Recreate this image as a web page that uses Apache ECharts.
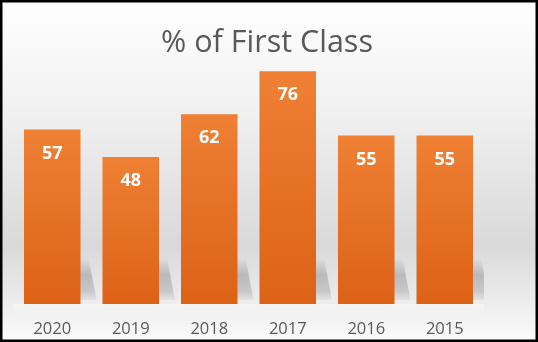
<!DOCTYPE html>
<html>
<head>
<meta charset="utf-8">
<script src="https://cdn.jsdelivr.net/npm/echarts@6/dist/echarts.min.js"></script>
<style>
html, body { margin: 0; padding: 0; }
#chart { width: 538px; height: 342px; }
</style>
</head>
<body>
<div id="chart"></div>
<script>
const years = ["2020", "2019", "2018", "2017", "2016", "2015"];
const firstClass = [57, 48, 62, 76, 55, 55];

const chart = echarts.init(document.getElementById("chart"));

const option = {
  backgroundColor: new echarts.graphic.LinearGradient(0, 0, 0, 1, [
    { offset: 0, color: "#ffffff" },
    { offset: 0.3, color: "#f2f2f2" },
    { offset: 0.72, color: "#d9d9d9" },
    { offset: 1, color: "#fbfbfb" }
  ]),
  animation: false,
  title: {
    text: "% of First Class",
    left: 262,
    textAlign: "center",
    top: 23,
    textStyle: {
      fontFamily: "Open Sans",
      fontWeight: "normal",
      fontSize: 30.5,
      color: "#595959"
    }
  },
  grid: {
    left: 13,
    right: 54,
    top: 59,
    bottom: 38
  },
  xAxis: {
    type: "category",
    data: years,
    axisLine: { show: false },
    axisTick: { show: false },
    axisLabel: {
      margin: 17,
      fontFamily: "Open Sans",
      fontSize: 16.5,
      color: "#595959"
    }
  },
  yAxis: {
    type: "value",
    min: 0,
    max: 80,
    show: false
  },
  graphic: [
    {
      type: "rect",
      silent: true,
      z: -1,
      shape: { x: 13, y: 304, width: 471, height: 14 },
      style: {
        fill: new echarts.graphic.LinearGradient(0, 0, 0, 1, [
          { offset: 0, color: "#f5f5f5" },
          { offset: 1, color: "rgba(245,245,245,0)" }
        ])
      }
    },
    {
      type: "rect",
      silent: true,
      z: 100,
      shape: { x: 1, y: 1, width: 536, height: 340 },
      style: { fill: null, stroke: "#000", lineWidth: 3 }
    }
  ],
  series: [
    {
      // soft cast shadow behind each bar
      type: "custom",
      clip: true,
      z: 1,
      silent: true,
      data: firstClass.map(function (v, i) { return [i, v]; }),
      renderItem: function (params, api) {
        const base = api.coord([api.value(0), 0]);
        const bw = api.size([1, 0])[0] * 0.72;
        const l = base[0] - bw / 2;
        const r = base[0] + bw / 2;
        const y = base[1];
        return {
          type: "polygon",
          shape: {
            points: [
              [l + 4, y - 46],
              [r + 8, y - 46],
              [r + 16, y - 4],
              [l + 20, y - 4]
            ]
          },
          style: {
            fill: new echarts.graphic.LinearGradient(0, 0, 0, 1, [
              { offset: 0, color: "rgba(0,0,0,0)" },
              { offset: 0.4, color: "rgba(0,0,0,0.17)" },
              { offset: 0.8, color: "rgba(0,0,0,0.13)" },
              { offset: 1, color: "rgba(0,0,0,0.04)" }
            ]),
            shadowBlur: 10,
            shadowColor: "rgba(0,0,0,0.12)"
          }
        };
      }
    },
    {
      type: "bar",
      data: firstClass,
      z: 2,
      barCategoryGap: "28%",
      itemStyle: {
        color: new echarts.graphic.LinearGradient(0, 0, 0, 1, [
          { offset: 0, color: "#ef8034" },
          { offset: 1, color: "#dc6216" }
        ])
      },
      label: {
        show: true,
        position: "insideTop",
        distance: 15,
        fontFamily: "Open Sans",
        fontWeight: "bold",
        fontSize: 18,
        color: "#ffffff"
      }
    }
  ]
};

chart.setOption(option);
</script>
</body>
</html>
